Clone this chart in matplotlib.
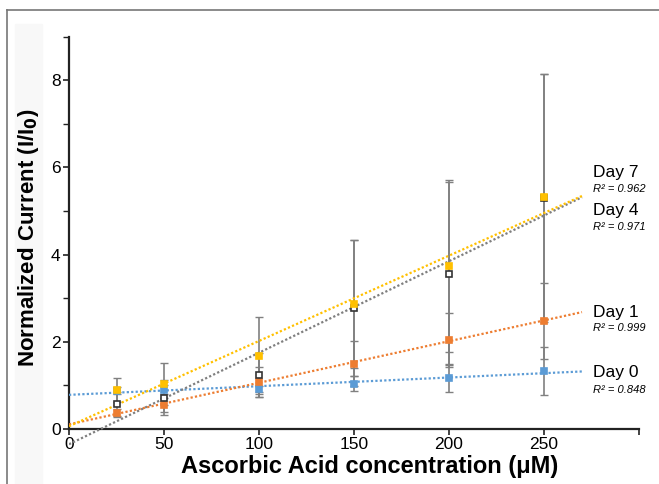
import numpy as np
import matplotlib
matplotlib.use("Agg")
import matplotlib.pyplot as plt
from matplotlib.patches import Rectangle
from matplotlib.lines import Line2D

plt.rcParams['font.family'] = ['Liberation Sans', 'DejaVu Sans']

conc = [25, 50, 100, 150, 200, 250]
day0 = [0.88, 0.90, 0.92, 1.04, 1.17, 1.33]
err0 = [0.08, 0.10, 0.07, 0.17, 0.32, 0.56]
day1 = [0.37, 0.55, 1.08, 1.50, 2.05, 2.48]
err1 = [0.08, 0.15, 0.35, 0.52, 0.62, 0.88]
day4 = [0.57, 0.72, 1.24, 2.78, 3.56, 5.30]
err4 = [0.29, 0.40, 0.50, 1.56, 2.10, 2.84]
day7 = [0.90, 1.03, 1.68, 2.87, 3.73, 5.33]
err7 = [0.27, 0.49, 0.88, 1.47, 1.97, 2.81]
series_names = ["Day 0", "Day 1", "Day 4", "Day 7"]
r2_labels = ["R² = 0.848", "R² = 0.999", "R² = 0.971", "R² = 0.962"]
x_ticks = [0, 50, 100, 150, 200, 250]
y_ticks = [0, 2, 4, 6, 8]

W, H = 659, 484
fig = plt.figure(figsize=(W / 100, H / 100), dpi=100)

def fx(px):
    return px / W

def fy(py):
    return 1 - py / H

# frame of the original picture
fig.add_artist(Line2D([fx(7), fx(7)], [fy(10), 0], color='#777777', lw=1.2, transform=fig.transFigure))
fig.add_artist(Line2D([fx(7), 1], [fy(10), fy(10)], color='#777777', lw=1.2, transform=fig.transFigure))
fig.add_artist(Rectangle((fx(15), 0), fx(27), fy(24), color='#f8f8f8', transform=fig.transFigure, zorder=0))

x0, x1 = 69, 639
ymin, ymax = -0.5, 9.0
ppu = 43.6
y0px = 429
top_px = y0px - ymax * ppu
bot_px = y0px - ymin * ppu
ax = fig.add_axes([fx(x0), fy(bot_px), fx(x1) - fx(x0), fy(top_px) - fy(bot_px)])
ax.set_xlim(0, 300)
ax.set_ylim(ymin, ymax)
ax.patch.set_alpha(0)

ax.spines['top'].set_visible(False)
ax.spines['right'].set_visible(False)
ax.spines['bottom'].set_position(('data', 0))
ax.spines['left'].set_bounds(0, 9)
for s in ['left', 'bottom']:
    ax.spines[s].set_linewidth(1.6)
    ax.spines[s].set_color('#222222')

ax.set_xticks(x_ticks + [300])
ax.set_xticklabels([str(t) for t in x_ticks] + [''])
ax.set_yticks(y_ticks)
ax.set_yticks([1, 3, 5, 7, 9], minor=True)
ax.tick_params(axis='both', which='major', labelsize=12.5, length=4, width=1.2, color='#222222', pad=2)
ax.tick_params(axis='y', which='minor', length=4, width=1.0, color='#222222')
ax.tick_params(axis='x', which='major', pad=2)

colors = ['#5b9bd5', '#ed7d31', '#7f7f7f', '#ffc000']
data = [day0, day1, day4, day7]
errs = [err0, err1, err4, err7]
faces = ['#5b9bd5', '#ed7d31', 'white', '#ffc000']
edges = ['#5b9bd5', '#ed7d31', '#333333', '#ffc000']

xfit = np.array([0, 270])
for d, e, c in zip(data, errs, colors):
    ax.errorbar(conc, d, yerr=e, fmt='none', ecolor='#808080', elinewidth=1.2,
                capsize=3, capthick=1.0, zorder=2)
for d, c in zip(data, colors):
    k, b = np.polyfit(conc, d, 1)
    ax.plot(xfit, k * xfit + b, linestyle=(0, (1, 1)), color=c, lw=1.6, zorder=3)
for d, fc, ec in zip(data, faces, edges):
    ax.plot(conc, d, linestyle='none', marker='s', markersize=4.8,
            markerfacecolor=fc, markeredgecolor=ec, markeredgewidth=1.2, zorder=4)

ax.set_xlabel("Ascorbic Acid concentration (μM)", fontsize=17, fontweight='bold', labelpad=2)
ax.xaxis.label.set_x(0.528)
ax.set_ylabel("Normalized Current (I/I$_\\mathbf{0}$)", fontsize=16, fontweight='bold', labelpad=7)
ax.yaxis.label.set_y(0.515)

label_pos = [(372, 390), (313, 328), (211, 227), (173, 189)]
for name, r2, (py1, py2) in zip(series_names, r2_labels, label_pos):
    fig.text(fx(593), fy(py1), name, fontsize=12.5, va='center', ha='left')
    fig.text(fx(593), fy(py2), r2, fontsize=8, style='italic', va='center', ha='left')

fig.savefig("out.png", dpi=100)
